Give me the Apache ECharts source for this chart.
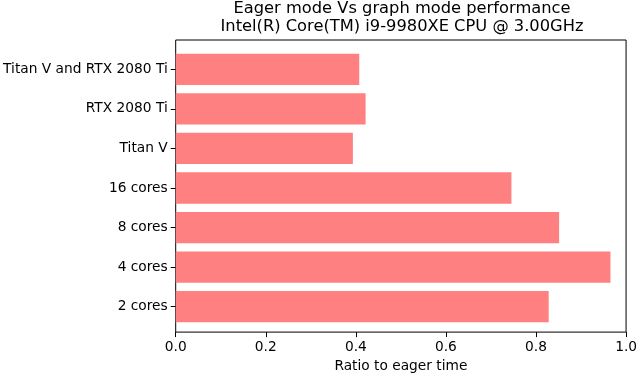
<!DOCTYPE html>
<html style="height: 100%">
<head>
    <meta charset="utf-8">
</head>
<body style="height: 100%; margin: 0">
<div id="container" style="width: 640px; height: 378px"></div>
<script type="text/javascript" src="https://fastly.jsdelivr.net/npm/echarts@6/dist/echarts.min.js"></script>
<script type="text/javascript">
    var categories = ['2 cores', '4 cores', '8 cores', '16 cores', 'Titan V', 'RTX 2080 Ti', 'Titan V and RTX 2080 Ti'];
    var ratios = [0.821, 0.957, 0.844, 0.739, 0.390, 0.418, 0.404];
    var xTicks = [0, 0.2, 0.4, 0.6, 0.8, 1.0];

    var font = 'DejaVu Sans';
    var myChart = echarts.init(document.getElementById('container'), null, {renderer: 'canvas'});

    var option = {
        animation: false,
        backgroundColor: '#fff',
        title: {
            text: 'Eager mode Vs graph mode performance\nIntel(R) Core(TM) i9-9980XE CPU @ 3.00GHz',
            left: 402,
            top: 0,
            padding: 0,
            textAlign: 'center',
            textStyle: {fontFamily: font, fontSize: 16.3, fontWeight: 'normal', color: '#000', lineHeight: 18}
        },
        grid: [
            // frame
            {left: 175.7, right: 10, top: 40, bottom: 42, show: true, borderColor: '#000', borderWidth: 1, backgroundColor: 'transparent'},
            // bars (inset like matplotlib margins)
            {left: 175.7, right: 10, top: 49.5, bottom: 51.5}
        ],
        xAxis: [
            {
                gridIndex: 0, type: 'value', min: xTicks[0], max: xTicks[xTicks.length - 1], interval: 0.2,
                name: 'Ratio to eager time', nameLocation: 'middle', nameGap: 25,
                nameTextStyle: {fontFamily: font, fontSize: 13.75, color: '#000'},
                axisLine: {show: false},
                axisTick: {show: true, length: 5, lineStyle: {color: '#000'}},
                axisLabel: {fontFamily: font, fontSize: 13.75, color: '#000', margin: 8,
                    formatter: function (v) { return v.toFixed(1); }},
                splitLine: {show: false}
            },
            {
                gridIndex: 1, type: 'value', min: 0, max: 1, show: false
            }
        ],
        yAxis: [
            {gridIndex: 0, type: 'value', show: false},
            {
                gridIndex: 1, type: 'category', data: categories,
                axisLine: {show: false},
                axisTick: {show: true, alignWithLabel: true, length: 5, lineStyle: {color: '#000'}},
                axisLabel: {fontFamily: font, fontSize: 13.75, color: '#000', margin: 8}
            }
        ],
        series: [
            {
                type: 'bar',
                xAxisIndex: 1,
                yAxisIndex: 1,
                data: ratios,
                barCategoryGap: '21%',
                itemStyle: {color: '#ff8080'}
            }
        ]
    };

    myChart.setOption(option);
    window.addEventListener('resize', myChart.resize);
</script>
</body>
</html>
